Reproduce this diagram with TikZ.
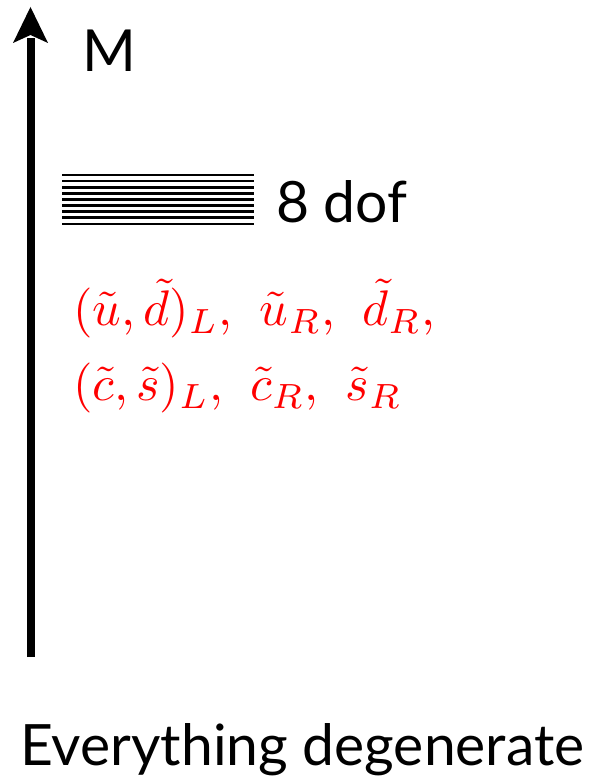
\documentclass[tikz,border=0pt]{standalone}
\usepackage{graphicx}
\usepackage{fontspec}
\setmainfont{Lato}
\begin{document}
\begin{tikzpicture}[x=1pt,y=-1pt,
  lbl/.style={inner sep=0pt,anchor=base west},
  level/.style={line width=2.6pt},
  red math/.style={inner sep=0pt,anchor=base west,text=red,font=\fontsize{10}{12}\selectfont}]
\useasboundingbox (0,0) rectangle (593,781);
% axis
\coordinate (bot) at (30.5,657);
\coordinate (tip) at (30.5,7);
\draw[line width=8pt] (bot) -- (30.5,38);
\fill (tip) -- (48,43) -- (30.5,35) -- (13,43) -- cycle;
\node[lbl,font=\fontsize{58}{70}\selectfont] (M) at (82,72) {M};
% levels
\foreach \i in {0,...,8}{
  \draw[level] (62,{175+\i*6.1}) -- (254,{175+\i*6.1});
}
\node[lbl,font=\fontsize{57}{65}\selectfont] (dof) at (276,222) {8 dof};
\node[red math] (l1) at (73,325.5) {\scalebox{5}{$(\tilde u,\tilde d)_L,~\hspace{1.2pt}\tilde u_R,~\hspace{1.2pt}\tilde d_R,$}};
\node[red math] (l2) at (73,400.5) {\scalebox{5}{$(\tilde c,\tilde s)_L,~\hspace{1.2pt}\tilde c_R,~\hspace{1.2pt}\tilde s_R$}};
\node[lbl,font=\fontsize{57}{70}\selectfont] (ev) at (20,765) {Everything degenerate};
\end{tikzpicture}
\end{document}
